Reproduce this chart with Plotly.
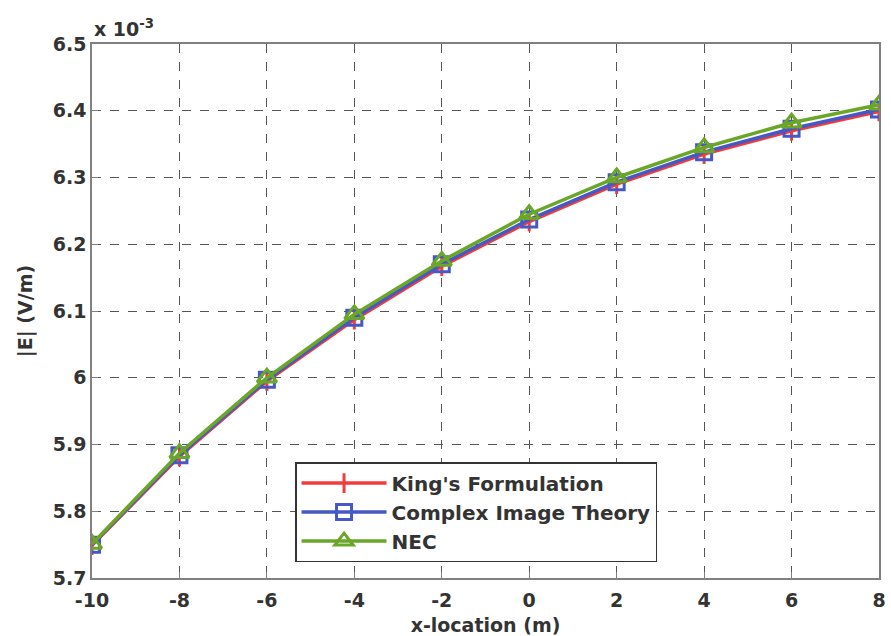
import plotly.graph_objects as go

# x-location (m)
x_loc = [-10, -8, -6, -4, -2, 0, 2, 4, 6, 8]
# |E| in units of 1e-3 V/m
kings = [5.749, 5.882, 5.995, 6.087, 6.167, 6.234, 6.290, 6.335, 6.370, 6.399]
complex_img = [5.750, 5.884, 5.997, 6.090, 6.170, 6.237, 6.293, 6.338, 6.373, 6.402]
nec = [5.751, 5.887, 6.000, 6.095, 6.175, 6.245, 6.300, 6.345, 6.382, 6.409]

x_ticks = [-10, -8, -6, -4, -2, 0, 2, 4, 6, 8]
y_ticks = [5.7, 5.8, 5.9, 6.0, 6.1, 6.2, 6.3, 6.4, 6.5]
y_ticktext = ["5.7", "5.8", "5.9", "6", "6.1", "6.2", "6.3", "6.4", "6.5"]

FONT = "DejaVu Sans, Liberation Sans, Arial, sans-serif"
TXT = "#333333"
RED = "#f23c3c"
BLUE = "#4658c4"
GREEN = "#6aa628"

fig = go.Figure()
fig.add_trace(go.Scatter(x=x_loc, y=kings, mode="lines+markers", name="<b>King's Formulation</b>",
                         line=dict(color=RED, width=3.5),
                         marker=dict(symbol="line-ns", size=14, line=dict(color=RED, width=3))))
fig.add_trace(go.Scatter(x=x_loc, y=complex_img, mode="lines+markers", name="<b>Complex Image Theory</b>",
                         line=dict(color=BLUE, width=3.5),
                         marker=dict(symbol="square-open", size=15, line=dict(color=BLUE, width=3))))
fig.add_trace(go.Scatter(x=x_loc, y=nec, mode="lines+markers", name="<b>NEC</b>",
                         line=dict(color=GREEN, width=3.5),
                         marker=dict(symbol="triangle-up-open", size=17, line=dict(color=GREEN, width=3))))

axis_common = dict(
    showline=True, linecolor="#808080", linewidth=1.5, mirror=True,
    showgrid=True, gridcolor="#555555", griddash="dash", gridwidth=1,
    ticks="inside", ticklen=6, tickcolor="#808080", zeroline=False,
    tickfont=dict(family=FONT, size=19, color=TXT), automargin=False,
)

fig.update_layout(
    width=891, height=636,
    margin=dict(l=92, r=12, t=44, b=58),
    paper_bgcolor="white", plot_bgcolor="white",
    font=dict(family=FONT, color=TXT),
    xaxis=dict(range=[-10, 8], tickvals=x_ticks, ticktext=[f"<b>{t}</b>" for t in x_ticks], **axis_common,
               ticklabelstandoff=4,
               title=dict(text="<b>x-location (m)</b>", font=dict(family=FONT, size=19, color=TXT))),
    yaxis=dict(range=[5.7, 6.5], tickvals=y_ticks, ticktext=[f"<b>{t}</b>" for t in y_ticktext], **axis_common,
               title=dict(text="<b>|E| (V/m)</b>", font=dict(family=FONT, size=19, color=TXT))),
    legend=dict(x=0.258, y=0.217, xanchor="left", yanchor="top",
                bordercolor="#333333", borderwidth=1.5, bgcolor="white",
                font=dict(family=FONT, size=20, color=TXT),
                itemwidth=85, tracegroupgap=0),
    showlegend=True,
)

fig.add_annotation(text="<b>x 10<sup>-3</sup></b>", xref="paper", yref="paper", x=0.0, y=1.0,
                   xanchor="left", yanchor="bottom", yshift=2, showarrow=False,
                   font=dict(family=FONT, size=19, color=TXT))

fig.write_html("out.html")
